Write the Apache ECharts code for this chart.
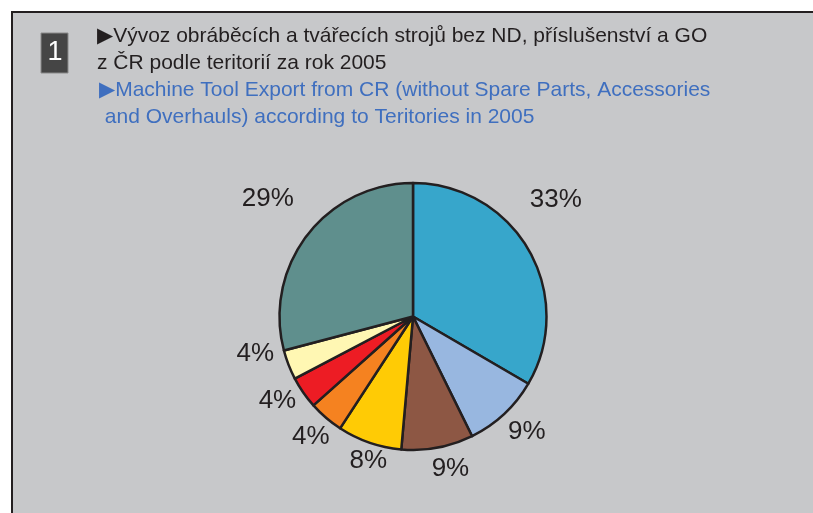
<!DOCTYPE html>
<html style="height: 100%" lang="cs">
<head>
  <meta charset="utf-8">
  <title>demo</title>
</head>
<body style="height: 100%; margin: 0; background: #fff">
<div id="container" style="width: 813px; height: 513px"></div>
<script src="https://cdn.jsdelivr.net/npm/echarts@6/dist/echarts.min.js"></script>
<script type="text/javascript">
  var dom = document.getElementById("container");
  var myChart = echarts.init(dom);

  // share of export per territory (%), clockwise from 12 o'clock
  var territories = ['T1', 'T2', 'T3', 'T4', 'T5', 'T6', 'T7', 'T8'];
  var shares = [33.4, 9.3, 8.7, 7.8, 4.2, 3.9, 3.6, 29.1];
  var colors = ['#37a6cb', '#98b7e0', '#8d5744', '#ffcb05', '#f58220', '#ed1c24', '#fff7b3', '#5f8f8d'];
  // small label nudges, to follow the hand-placed labels of the original
  var labelNudge = [[-18, -39], [-11, 2], [-10, -1], [25, -3], [18, 2], [11, -4], [6, -19], [4, -23]];

  var titleCz = '{t|\u25B6}Vývoz obráběcích a tvářecích strojů bez ND, příslušenství a GO\nz ČR podle teritorií za rok 2005';
  var titleEn = '{t|\u25B6}Machine Tool Export from CR (without Spare Parts, Accessories\n and Overhauls) according to Teritories in 2005';

  var data = territories.map(function (name, i) {
    return { name: name, value: shares[i], itemStyle: { color: colors[i] } };
  });

  function titleText(x, y, text, color) {
    return {
      type: 'text', z: -4,
      x: x, y: y,
      style: {
        text: text, fill: color, fontSize: 21, lineHeight: 27,
        fontFamily: 'Liberation Sans, Arial',
        rich: {
          t: { fontSize: 21, lineHeight: 27, fill: color, fontFamily: 'DejaVu Sans' }
        }
      }
    };
  }

  var option = {
    animation: false,
    graphic: [
      {
        type: 'rect', z: -10,
        shape: { x: 12, y: 12, width: 900, height: 600 },
        style: { fill: '#c7c8ca', stroke: '#231f20', lineWidth: 2 }
      },
      {
        type: 'rect', z: -5,
        shape: { x: 41, y: 33, width: 27, height: 40 },
        style: { fill: '#454545', stroke: '#8a8a8a', lineWidth: 1 }
      },
      {
        type: 'text', z: -4,
        x: 55, y: 53,
        style: {
          text: '1', fill: '#ffffff', fontSize: 27,
          fontFamily: 'Liberation Sans Narrow, Liberation Sans, Arial',
          align: 'center', verticalAlign: 'middle'
        }
      },
      titleText(97, 23, titleCz, '#231f20'),
      titleText(99, 77, titleEn, '#3f6fbf')
    ],
    series: [
      {
        type: 'pie',
        center: [413, 316.5],
        radius: 133.5,
        startAngle: 90,
        clockwise: true,
        avoidLabelOverlap: false,
        data: data,
        itemStyle: { borderColor: '#231f20', borderWidth: 2.5 },
        label: {
          position: 'outside',
          distanceToLabelLine: 0,
          color: '#231f20',
          fontSize: 26,
          fontFamily: 'Liberation Sans, Arial',
          formatter: function (p) { return Math.round(p.percent) + '%'; }
        },
        labelLine: { show: false, length: 22, length2: 0 },
        labelLayout: function (p) {
          var n = labelNudge[p.dataIndex];
          return { dx: n[0], dy: n[1] };
        },
        emphasis: { disabled: true }
      }
    ]
  };

  myChart.setOption(option);
</script>
</body>
</html>
